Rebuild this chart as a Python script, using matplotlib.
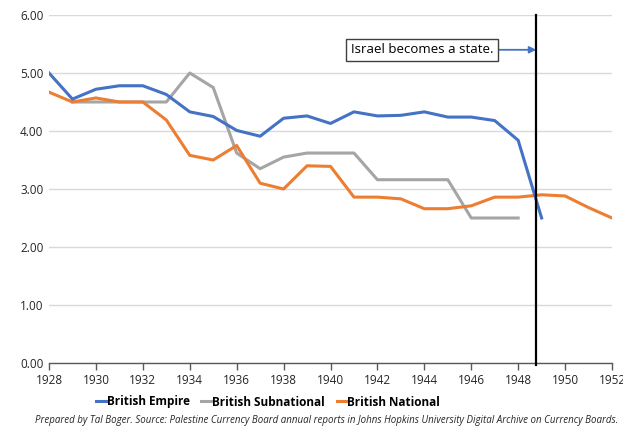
import matplotlib
matplotlib.use("Agg")
import matplotlib.pyplot as plt
import numpy as np

plt.rcParams['font.family'] = ['Open Sans', 'DejaVu Sans']

years_empire = list(range(1928, 1950))
empire = [5.00, 4.55, 4.72, 4.78, 4.78, 4.63, 4.33, 4.25, 4.01, 3.91, 4.22,
          4.26, 4.13, 4.33, 4.26, 4.27, 4.33, 4.24, 4.24, 4.18, 3.84, 2.50]

years_sub = list(range(1929, 1949))
subnational = [4.50, 4.50, 4.50, 4.50, 4.50, 5.00, 4.75, 3.62, 3.35, 3.55,
               3.62, 3.62, 3.62, 3.16, 3.16, 3.16, 3.16, 2.50, 2.50, 2.50]

years_nat = list(range(1928, 1953))
national = [4.67, 4.50, 4.57, 4.50, 4.50, 4.19, 3.58, 3.50, 3.75, 3.10, 3.00,
            3.40, 3.39, 2.86, 2.86, 2.83, 2.66, 2.66, 2.71, 2.86, 2.86, 2.90,
            2.88, 2.68, 2.50]

state_year = 1948.77
x_ticks = list(range(1928, 1953, 2))
y_ticks = [0, 1, 2, 3, 4, 5, 6]

fig = plt.figure(figsize=(6.23, 4.30), dpi=100)
ax = fig.add_axes([49/623, 1 - 363/430, (612-49)/623, (363-15)/430])

lw = 2.2
ax.plot(years_empire, empire, color='#4472C4', lw=lw, label='British Empire', zorder=3)
ax.plot(years_sub, subnational, color='#A5A5A5', lw=lw, label='British Subnational', zorder=2)
ax.plot(years_nat, national, color='#ED7D31', lw=lw, label='British National', zorder=2.5)

ax.set_xlim(1928, 1952)
ax.set_ylim(0, 6)
ax.set_yticks(y_ticks)
ax.set_yticklabels([f"{v:.2f}" for v in y_ticks])
ax.set_xticks(x_ticks)
ax.set_xticklabels([str(v) for v in x_ticks])
ax.grid(axis='y', color='#D9D9D9', lw=1)
ax.set_axisbelow(True)
for s in ['left', 'right', 'top']:
    ax.spines[s].set_visible(False)
ax.spines['bottom'].set_color('#595959')
ax.spines['bottom'].set_linewidth(1)
ax.tick_params(axis='y', length=0, labelsize=8.5, colors='#262626', pad=4)
ax.tick_params(axis='x', length=5, width=1, color='#595959', labelsize=8.5,
               labelcolor='#262626', direction='out', pad=3)

ax.plot([state_year, state_year], [-0.03, 6.0], color='black', lw=1.6,
        clip_on=False, zorder=4)

ax.annotate('Israel becomes a state.', xy=(state_year, 5.40), xytext=(1946.95, 5.40),
            ha='right', va='center', fontsize=9.5,
            bbox=dict(boxstyle='square,pad=0.35', fc='white', ec='#404040', lw=1),
            arrowprops=dict(arrowstyle='-|>', color='#4472C4', lw=1.3,
                            mutation_scale=10, shrinkA=0, shrinkB=0),
            zorder=5)

leg = fig.legend(loc='center', bbox_to_anchor=(268/623, 1 - 402/430), ncol=3,
                 frameon=False, handlelength=0.9, handletextpad=0.0,
                 columnspacing=1.0, prop={'weight': 'bold', 'size': 8.5})

fig.text(618/623, 1 - 421/430,
         'Prepared by Tal Boger. Source: Palestine Currency Board annual reports in Johns Hopkins University Digital Archive on Currency Boards.',
         ha='right', va='center', fontsize=7.0, style='italic', color='#262626')

fig.savefig('out.png', dpi=100)
